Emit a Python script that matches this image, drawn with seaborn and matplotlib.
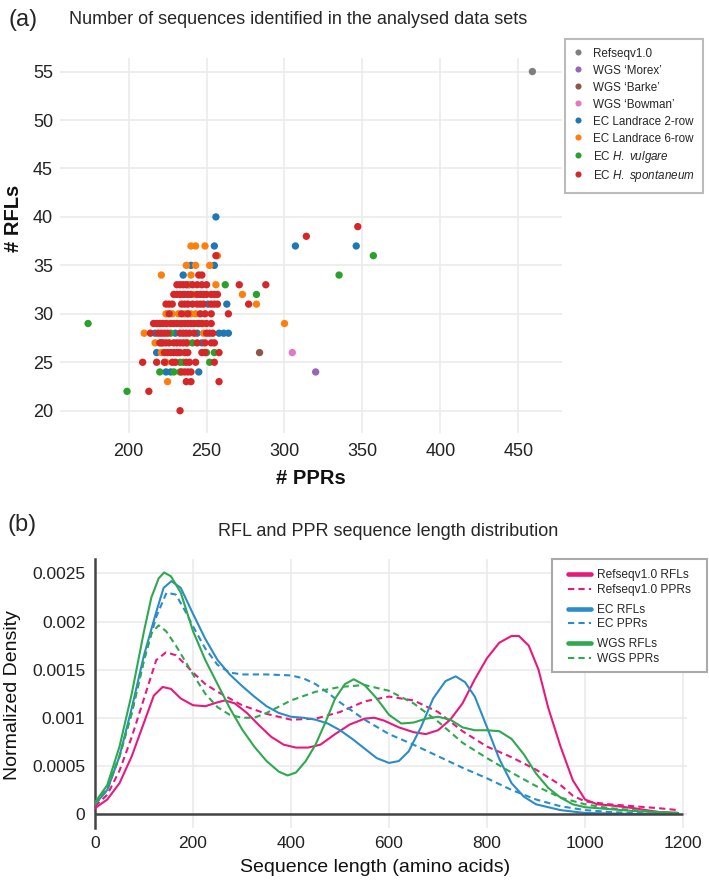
import numpy as np
import pandas as pd
import matplotlib
matplotlib.use('Agg')
import matplotlib.pyplot as plt
import seaborn as sns
from matplotlib.lines import Line2D
from matplotlib.patches import Rectangle
from matplotlib.ticker import FuncFormatter

# ---------------- panel (a): number of PPRs / RFLs per data set
refseq_ppr, refseq_rfl = [459], [55]
morex_ppr, morex_rfl = [320], [24]
barke_ppr, barke_rfl = [284], [26]
bowman_ppr, bowman_rfl = [305], [26]

# EC groups, keyed by # RFLs -> list of # PPRs
landrace2_rows = {40: [256], 37: [255, 307, 346], 35: [240, 255], 34: [235], 33: [239],
                  32: [236], 31: [251, 263], 28: [217, 230, 244, 258, 261, 264],
                  27: [221, 247], 26: [218, 232], 24: [224, 227, 245]}
landrace6_rows = {37: [240, 243, 249], 36: [257], 35: [237, 243, 252], 34: [221, 240],
                  33: [238, 256], 32: [242, 273], 31: [282],
                  30: [224, 228, 232, 236, 240, 243], 29: [225, 248, 300],
                  28: [210, 248], 27: [217, 238], 26: [221], 25: [224], 23: [225]}
vulgare_rows = {36: [357], 34: [335], 33: [262], 32: [282], 29: [174, 233, 244],
                28: [227], 27: [241], 26: [250, 255], 25: [233, 235, 252],
                24: [220, 229, 233], 22: [199]}
spontaneum_rows = {39: [347], 38: [314], 36: [256], 34: [245, 247],
                   33: [231, 233, 235, 237, 241, 244, 247, 250, 271, 288],
                   32: [229, 231, 233, 235, 238, 240, 244, 246, 248, 250, 253, 255, 257],
                   31: [224, 226, 228, 234, 236, 238, 241, 244, 246, 248, 253, 255, 257, 277],
                   30: [226, 234, 238, 246, 249, 253, 264],
                   29: [216, 218, 220, 222, 224, 227, 229, 231, 234, 236, 238, 240, 242,
                        245, 247, 250, 253],
                   28: [214, 219, 221, 223, 225, 233, 235, 237, 239, 242, 250, 252, 254],
                   27: [220, 222, 224, 226, 229, 231, 233, 235, 237, 244, 249, 253, 255],
                   26: [223, 225, 227, 229, 231, 233, 236, 238, 247, 249, 258],
                   25: [209, 218, 223, 228, 230, 237, 239, 243, 255],
                   24: [234, 236, 238, 240], 23: [237, 240, 258], 22: [213], 20: [233]}

group_names = ['Refseqv1.0', 'WGS \u2018Morex\u2019', 'WGS \u2018Barke\u2019',
               'WGS \u2018Bowman\u2019', 'EC Landrace 2-row', 'EC Landrace 6-row',
               'EC $\\it{H.}$ $\\it{vulgare}$', 'EC $\\it{H.}$ $\\it{spontaneum}$']
group_colors = ['#7f7f7f', '#9467bd', '#8c564b', '#e377c2',
                '#1f77b4', '#ff7f0e', '#2ca02c', '#d62728']

# ---------------- panel (b): sequence length density curves
ref_rfl_x = [0, 25, 50, 75, 100, 120, 138, 155, 175, 200, 225, 250, 265, 285, 310, 335,
             360, 385, 410, 435, 460, 490, 520, 550, 570, 590, 620, 650, 675, 700, 725,
             750, 775, 800, 825, 850, 865, 885, 905, 925, 950, 975, 1000, 1025, 1050,
             1100, 1150, 1190]
ref_rfl_y = [0.00006, 0.00015, 0.00032, 0.0006, 0.00095, 0.00123, 0.00132, 0.0013,
             0.0012, 0.00113, 0.00112, 0.00116, 0.00118, 0.00115, 0.00105, 0.00092,
             0.0008, 0.00072, 0.00069, 0.00069, 0.00072, 0.00083, 0.00093, 0.00099,
             0.001, 0.00097, 0.0009, 0.00085, 0.00083, 0.00087, 0.00098, 0.00115,
             0.0014, 0.00162, 0.00178, 0.00185, 0.00185, 0.00175, 0.0015, 0.0011,
             0.0007, 0.00035, 0.00015, 0.0001, 0.00009, 0.00006, 0.00002, 0.00001]
ref_ppr_x = [0, 25, 50, 75, 100, 125, 145, 165, 185, 200, 225, 250, 300, 350, 400, 450,
             500, 550, 600, 650, 700, 750, 800, 850, 900, 950, 975, 1000, 1050, 1100,
             1150, 1190]
ref_ppr_y = [0.00008, 0.0002, 0.00045, 0.0008, 0.0012, 0.0016, 0.00168, 0.00165,
             0.00155, 0.00147, 0.00135, 0.00127, 0.00113, 0.00104, 0.00098, 0.00099,
             0.00106, 0.00117, 0.00122, 0.00118, 0.00106, 0.00086, 0.0007, 0.00059,
             0.00046, 0.0003, 0.00019, 0.00013, 0.0001, 0.00008, 0.00006, 0.00004]
ec_rfl_x = [0, 25, 50, 75, 100, 125, 140, 156, 175, 200, 225, 250, 275, 300, 325, 350,
            375, 400, 425, 450, 475, 500, 525, 550, 575, 600, 620, 640, 665, 690, 715,
            736, 755, 775, 800, 825, 850, 875, 900, 950, 1000, 1100, 1190]
ec_rfl_y = [0.0001, 0.00025, 0.0006, 0.0011, 0.00165, 0.0021, 0.00235, 0.00242,
            0.00235, 0.00208, 0.00182, 0.0016, 0.00145, 0.00133, 0.00122, 0.00112,
            0.00105, 0.00101, 0.001, 0.00098, 0.00094, 0.00087, 0.00078, 0.00068,
            0.00058, 0.00053, 0.00055, 0.00065, 0.0009, 0.0012, 0.00138, 0.00143,
            0.00137, 0.00122, 0.0009, 0.00057, 0.00032, 0.00018, 0.0001, 0.00004,
            0.00001, 0.0, 0.0]
ec_ppr_x = [0, 25, 50, 75, 100, 125, 146, 165, 185, 200, 225, 250, 275, 300, 350, 400,
            425, 450, 475, 500, 550, 600, 650, 700, 750, 800, 850, 900, 950, 1000, 1050,
            1100, 1190]
ec_ppr_y = [0.0001, 0.00025, 0.0006, 0.00105, 0.0016, 0.00205, 0.0023, 0.00228, 0.0021,
            0.00195, 0.00172, 0.00155, 0.00147, 0.00145, 0.00145, 0.00144, 0.00141,
            0.00135, 0.00126, 0.00116, 0.00098, 0.00083, 0.00072, 0.0006, 0.00048,
            0.00037, 0.00025, 0.00015, 0.00008, 0.00004, 0.00002, 0.00001, 0.0]
wgs_rfl_x = [0, 25, 50, 75, 100, 115, 130, 141, 155, 175, 200, 225, 250, 275, 300, 325,
             350, 375, 393, 410, 430, 450, 470, 490, 510, 528, 550, 575, 600, 625, 650,
             675, 700, 725, 750, 775, 800, 825, 850, 875, 900, 925, 950, 975, 1000,
             1050, 1100, 1150, 1190]
wgs_rfl_y = [0.00012, 0.0003, 0.0007, 0.00125, 0.0019, 0.00225, 0.00245, 0.00251,
             0.00247, 0.0023, 0.0019, 0.0016, 0.00135, 0.0011, 0.00088, 0.0007, 0.00055,
             0.00044, 0.0004, 0.00043, 0.00055, 0.00072, 0.00095, 0.0012, 0.00135,
             0.0014, 0.00134, 0.0012, 0.00103, 0.00094, 0.00095, 0.00099, 0.00101,
             0.00098, 0.0009, 0.00087, 0.00087, 0.00086, 0.00078, 0.00062, 0.00042,
             0.00027, 0.00017, 0.0001, 0.00007, 0.00005, 0.00003, 0.00002, 0.00001]
wgs_ppr_x = [0, 25, 50, 75, 100, 115, 130, 145, 165, 185, 200, 225, 250, 275, 300, 325,
             350, 400, 450, 500, 550, 600, 650, 700, 750, 800, 850, 900, 950, 1000, 1050,
             1100, 1150, 1190]
wgs_ppr_y = [0.0001, 0.00028, 0.0006, 0.00105, 0.0016, 0.00188, 0.00196, 0.0019,
             0.00175, 0.00158, 0.00145, 0.00125, 0.00111, 0.00103, 0.001, 0.001,
             0.00105, 0.00118, 0.00127, 0.00132, 0.00134, 0.00128, 0.00115, 0.00096,
             0.00074, 0.00058, 0.00043, 0.00029, 0.00017, 0.0001, 0.00006, 0.00004,
             0.00002, 0.00001]

curve_sets = ['Refseqv1.0', 'EC', 'WGS']
curve_colors = {'Refseqv1.0': '#e8197d', 'EC': '#2b8cc8', 'WGS': '#2fa84f'}

# ---------------- build tables
def rows_to_pairs(rows):
    ppr, rfl = [], []
    for r, xs in rows.items():
        ppr += xs
        rfl += [r] * len(xs)
    return ppr, rfl

pairs = [(refseq_ppr, refseq_rfl), (morex_ppr, morex_rfl), (barke_ppr, barke_rfl),
         (bowman_ppr, bowman_rfl), rows_to_pairs(landrace2_rows),
         rows_to_pairs(landrace6_rows), rows_to_pairs(vulgare_rows),
         rows_to_pairs(spontaneum_rows)]
scatter_df = pd.concat([pd.DataFrame({'ppr': p, 'rfl': r, 'group': g})
                        for (p, r), g in zip(pairs, group_names)], ignore_index=True)

curves = [('Refseqv1.0', 'RFLs', ref_rfl_x, ref_rfl_y), ('Refseqv1.0', 'PPRs', ref_ppr_x, ref_ppr_y),
          ('EC', 'RFLs', ec_rfl_x, ec_rfl_y), ('EC', 'PPRs', ec_ppr_x, ec_ppr_y),
          ('WGS', 'RFLs', wgs_rfl_x, wgs_rfl_y), ('WGS', 'PPRs', wgs_ppr_x, wgs_ppr_y)]
curve_df = pd.concat([pd.DataFrame({'length': x, 'density': y, 'set': s, 'kind': k})
                      for s, k, x, y in curves], ignore_index=True)

# ---------------- style
sns.set_theme(style='whitegrid')
plt.rcParams['font.family'] = ['Liberation Sans', 'DejaVu Sans']
plt.rcParams['mathtext.fontset'] = 'custom'
plt.rcParams['mathtext.rm'] = 'Liberation Sans'
plt.rcParams['mathtext.it'] = 'Liberation Sans:italic'
grid_kw = dict(color='#ebebeb', linewidth=1.2)

W, H = 709, 884
fig = plt.figure(figsize=(W / 100, H / 100), dpi=100)
ax1 = fig.add_axes([60 / W, 1 - 433 / H, (562 - 60) / W, (433 - 58) / H])
ax2 = fig.add_axes([95 / W, 1 - 828 / H, (687 - 95) / W, (828 - 559) / H])

# ---------------- (a) scatter
sns.scatterplot(data=scatter_df, x='ppr', y='rfl', hue='group', hue_order=group_names,
                palette=group_colors, s=28, linewidth=0, legend=False, ax=ax1, zorder=3)
ax1.set_xlim(156, 478)
ax1.set_ylim(17.7, 56.4)
ax1.set_xticks(np.arange(200, 451, 50))
ax1.set_yticks(np.arange(20, 56, 5))
ax1.grid(True, **grid_kw)
for sp in ax1.spines.values():
    sp.set_visible(False)
ax1.tick_params(axis='both', length=0, labelsize=13, colors='#222222')
ax1.tick_params(axis='y', pad=5)
ax1.tick_params(axis='x', pad=7)
ax1.set_xlabel('# PPRs', fontsize=14.5, fontweight='bold', color='#111111')
ax1.set_ylabel('# RFLs', fontsize=14.5, fontweight='bold', color='#111111')
ax1.xaxis.set_label_coords(0.5, -0.095)
ax1.yaxis.set_label_coords(-0.074, 0.571)

handles_a = [Line2D([], [], marker='o', ls='', color=c, markersize=4.4, markeredgewidth=0)
             for c in group_colors]
leg_a = fig.legend(handles_a, group_names, loc='upper left',
                   bbox_to_anchor=(559 / W, 1 - 33 / H), fontsize=8.4, frameon=True,
                   fancybox=False, edgecolor='#aaaaaa', handlelength=0.8,
                   handleheight=1.25, handletextpad=0.9, labelspacing=0.33, borderpad=0.7)
leg_a.get_frame().set_linewidth(1.5)

fig.text(23 / W, 1 - 20 / H, '(a)', ha='center', va='center', fontsize=17)
fig.text(298 / W, 1 - 20 / H, 'Number of sequences identified in the analysed data sets',
         ha='center', va='center', fontsize=13)

# ---------------- (b) density curves
sns.lineplot(data=curve_df, x='length', y='density', hue='set', hue_order=curve_sets,
             palette=curve_colors, style='kind', style_order=['RFLs', 'PPRs'],
             dashes={'RFLs': '', 'PPRs': (3, 2)}, estimator=None, linewidth=1.5,
             legend=False, ax=ax2, zorder=3)
ax2.hlines(0, 0, 1200, color='#444444', linewidth=1.8, zorder=4)
ax2.set_xlim(0, 1208)
ax2.set_ylim(-0.000146, 0.00265)
ax2.set_xticks(np.arange(0, 1201, 200))
ax2.set_yticks([0, 0.0005, 0.001, 0.0015, 0.002, 0.0025])
ax2.yaxis.set_major_formatter(FuncFormatter(lambda v, pos: f'{v:g}'))
ax2.grid(True, **grid_kw)
for name, sp in ax2.spines.items():
    sp.set_visible(name == 'left')
ax2.spines['left'].set_color('#444444')
ax2.spines['left'].set_linewidth(1.8)
ax2.tick_params(axis='both', length=0, labelsize=12.5, colors='#222222')
ax2.tick_params(axis='y', pad=7)
ax2.tick_params(axis='x', pad=6)
ax2.set_xlabel('Sequence length (amino acids)', fontsize=14, color='#111111')
ax2.set_ylabel('Normalized Density', fontsize=14, color='#111111')
ax2.xaxis.set_label_coords(0.473, -0.115)
ax2.yaxis.set_label_coords(-0.125, 0.494)

# legend box with the three pairs slightly spaced apart
fig.add_artist(Rectangle((552 / W, 1 - 672 / H), 155 / W, 113 / H,
                         transform=fig.transFigure, facecolor='white',
                         edgecolor='#aaaaaa', linewidth=1.5, zorder=4))
for i, s in enumerate(curve_sets):
    hs = [Line2D([], [], color=curve_colors[s], lw=3.3),
          Line2D([], [], color=curve_colors[s], lw=1.5, dashes=(3, 2))]
    fig.legend(hs, [f'{s} RFLs', f'{s} PPRs'], loc='upper left',
               bbox_to_anchor=(560 / W, 1 - (561 + 34.5 * i) / H), fontsize=8.6,
               frameon=False, handlelength=1.9, handletextpad=0.5, labelspacing=0.2,
               borderpad=0.2)

fig.text(22 / W, 1 - 525 / H, '(b)', ha='center', va='center', fontsize=17)
fig.text(388 / W, 1 - 532 / H, 'RFL and PPR sequence length distribution',
         ha='center', va='center', fontsize=13)

fig.savefig('out.png', dpi=100)
